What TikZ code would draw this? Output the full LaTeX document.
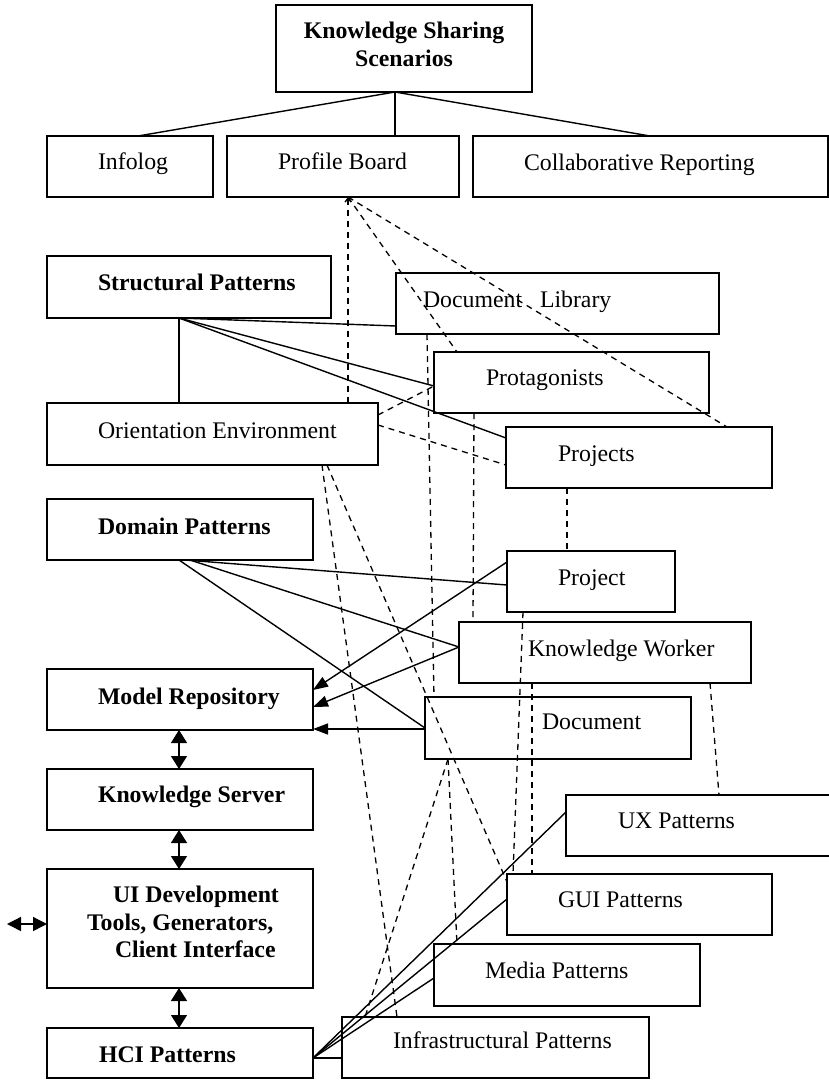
\documentclass[tikz,border=0pt]{standalone}
\usepackage{fontspec}
\setmainfont{Liberation Serif}
\usetikzlibrary{calc,arrows.meta}
\begin{document}
\begin{tikzpicture}[x=1pt,y=-1pt,
  box/.style={draw, line width=1.8pt, inner sep=0pt, outer sep=0pt, anchor=north west},
  txt/.style={inner sep=0pt, outer sep=0pt, anchor=base west, font=\fontsize{23.8}{28}\selectfont},
  conn/.style={line width=1.4pt},
  dsh/.style={line width=1.3pt, dash pattern=on 6pt off 5pt},
  arr/.style={conn, -{Triangle[length=15pt,width=11pt]}},
  darr/.style={conn, {Triangle[length=13pt,width=16pt]}-{Triangle[length=13pt,width=16pt]}},
  harr/.style={conn, {Triangle[length=14pt,width=14pt]}-{Triangle[length=14pt,width=14pt]}},
  tip/.style={dsh, {Straight Barb[length=4pt,width=6pt]}-}
]
\useasboundingbox (0,0) rectangle (829,1080);

% boxes
\node[box, minimum width=256pt, minimum height=87pt] (kss) at (276,5) {};
\node[box, minimum width=166pt, minimum height=61pt] (info) at (47,136) {};
\node[box, minimum width=232pt, minimum height=61pt] (prof) at (227,136) {};
\node[box, minimum width=355pt, minimum height=61pt] (collab) at (473,136) {};
\node[box, minimum width=284pt, minimum height=62pt] (sp) at (47,256) {};
\node[box, minimum width=323pt, minimum height=61pt] (dl) at (396,273) {};
\node[box, minimum width=275pt, minimum height=61pt] (prot) at (434,352) {};
\node[box, minimum width=331pt, minimum height=62pt] (oe) at (47,403) {};
\node[box, minimum width=266pt, minimum height=61pt] (projs) at (506,427) {};
\node[box, minimum width=266pt, minimum height=61pt] (dp) at (47,499) {};
\node[box, minimum width=168pt, minimum height=61pt] (proj) at (507,551) {};
\node[box, minimum width=292pt, minimum height=61pt] (kw) at (459,622) {};
\node[box, minimum width=266pt, minimum height=61pt] (mr) at (47,669) {};
\node[box, minimum width=266pt, minimum height=62pt] (doc) at (425,697) {};
\node[box, minimum width=266pt, minimum height=61pt] (ks) at (47,769) {};
\node[box, minimum width=272pt, minimum height=61pt] (ux) at (566,795) {};
\node[box, minimum width=266pt, minimum height=119pt] (ui) at (47,869) {};
\node[box, minimum width=265pt, minimum height=61pt] (gui) at (507,874) {};
\node[box, minimum width=266pt, minimum height=62pt] (media) at (434,944) {};
\node[box, minimum width=307pt, minimum height=61pt] (ip) at (342,1017) {};
\node[box, minimum width=266pt, minimum height=50pt] (hci) at (47,1028) {};

% texts
\node[txt, anchor=base] (t-kss1) at (404,38) {\bfseries Knowledge Sharing};
\node[txt, anchor=base] (t-kss2) at (404,66) {\bfseries Scenarios};
\node[txt] (t-info) at (98,169) {Infolog};
\node[txt] (t-prof) at (278,169) {Profile Board};
\node[txt] (t-collab) at (524,170) {Collaborative Reporting};
\node[txt] (t-sp) at (98,290) {\bfseries Structural Patterns};
\node[txt] (t-dl) at (423,307) {Document\hspace{0.75em}Library};
\node[txt] (t-prot) at (486,385) {Protagonists};
\node[txt] (t-oe) at (98,438) {Orientation Environment};
\node[txt] (t-projs) at (558,461) {Projects};
\node[txt] (t-dp) at (98,534) {\bfseries Domain Patterns};
\node[txt] (t-proj) at (558,585) {Project};
\node[txt] (t-kw) at (528,656) {Knowledge Worker};
\node[txt] (t-mr) at (98,704) {\bfseries Model Repository};
\node[txt] (t-doc) at (542,729) {Document};
\node[txt] (t-ks) at (98,802) {\bfseries Knowledge Server};
\node[txt] (t-ux) at (618,828) {UX Patterns};
\node[txt] (t-ui1) at (113,902) {\bfseries UI Development};
\node[txt] (t-ui2) at (87,930) {\bfseries Tools, Generators,};
\node[txt] (t-ui3) at (115,957) {\bfseries Client Interface};
\node[txt] (t-gui) at (558,907) {GUI Patterns};
\node[txt] (t-media) at (485,978) {Media Patterns};
\node[txt] (t-ip) at (393,1048) {Infrastructural Patterns};
\node[txt] (t-hci) at (99,1062) {\bfseries HCI Patterns};

% solid connectors
\draw[conn] ($(kss.south west)+(119,0)$) -- ($(info.north west)+(91,0)$);
\draw[conn] ($(kss.south west)+(119,0)$) -- ($(prof.north west)+(168,0)$);
\draw[conn] ($(kss.south west)+(119,0)$) -- ($(collab.north west)+(177,0)$);
\draw[conn] ($(sp.south west)+(132,0)$) -- ($(oe.north west)+(132,0)$);
\draw[conn] ($(sp.south west)+(132,0)$) -- ($(dl.south west)+(0,-8)$);
\draw[conn] ($(sp.south west)+(132,0)$) -- ($(prot.south west)+(0,-27)$);
\draw[conn] ($(sp.south west)+(132,0)$) -- ($(projs.north west)+(0,11)$);
\draw[conn] ($(dp.south west)+(138,0)$) -- ($(proj.north west)+(0,34)$);
\draw[conn] ($(dp.south west)+(143,0)$) -- ($(kw.north west)+(0,25)$);
\draw[conn] ($(dp.south west)+(132,0)$) -- ($(doc.north west)+(0,31)$);
\draw[arr] ($(proj.north west)+(0,11)$) -- ($(mr.north east)+(0,21)$);
\draw[arr] ($(kw.north west)+(0,25)$) -- ($(mr.north east)+(0,38)$);
\draw[arr] ($(doc.north west)+(0,32)$) -- ($(mr.north east)+(0,60)$);
\draw[darr] ($(mr.south west)+(132,0)$) -- ($(ks.north west)+(132,0)$);
\draw[darr] ($(ks.south west)+(132,0)$) -- ($(ui.north west)+(132,0)$);
\draw[darr] ($(ui.south west)+(132,0)$) -- ($(hci.north west)+(132,0)$);
\coordinate (ext) at (7,924);
\draw[harr] (ext) -- ($(ui.north west)+(0,55)$);
\draw[conn] ($(hci.north east)+(0,30)$) -- ($(ux.north west)+(0,17)$);
\draw[conn] ($(hci.north east)+(0,30)$) -- ($(gui.north west)+(0,25)$);
\draw[conn] ($(hci.north east)+(0,30)$) -- ($(media.north west)+(0,34)$);
\draw[conn] ($(hci.north east)+(0,30)$) -- ($(ip.north west)+(0,41)$);

% dashed connectors
\draw[tip] ($(prof.south west)+(121,0)$) -- ($(oe.north west)+(301,0)$);
\draw[dsh] ($(prof.south west)+(121,0)$) -- ($(prot.north west)+(23,0)$);
\draw[dsh] ($(prof.south west)+(121,0)$) -- ($(projs.north west)+(221,0)$);
\draw[dsh] ($(oe.north east)+(0,12)$) -- ($(prot.north west)+(0,34)$);
\draw[dsh] ($(oe.north east)+(0,22)$) -- ($(projs.north west)+(0,38)$);
\draw[dsh] ($(dl.south west)+(31,0)$) -- ($(doc.north west)+(9,0)$);
\draw[dsh] ($(prot.south west)+(40,0)$) -- ($(kw.north west)+(14,0)$);
\draw[dsh] ($(projs.south west)+(61,0)$) -- ($(proj.north west)+(60,0)$);
\draw[dsh] ($(oe.south west)+(275,0)$) -- ($(ip.north west)+(55,0)$);
\draw[dsh] ($(oe.south west)+(280,0)$) -- ($(gui.north west)+(0,8)$);
\draw[dsh] ($(proj.south west)+(16,0)$) -- ($(gui.north west)+(6,0)$);
\draw[dsh] ($(kw.south west)+(73,0)$) -- ($(gui.north west)+(25,0)$);
\draw[dsh] ($(kw.south west)+(251,0)$) -- ($(ux.north west)+(153,0)$);
\draw[dsh] ($(doc.south west)+(23,0)$) -- ($(ip.north west)+(23,0)$);
\draw[dsh] ($(doc.south west)+(23,0)$) -- ($(media.north west)+(23,0)$);
\end{tikzpicture}
\end{document}
